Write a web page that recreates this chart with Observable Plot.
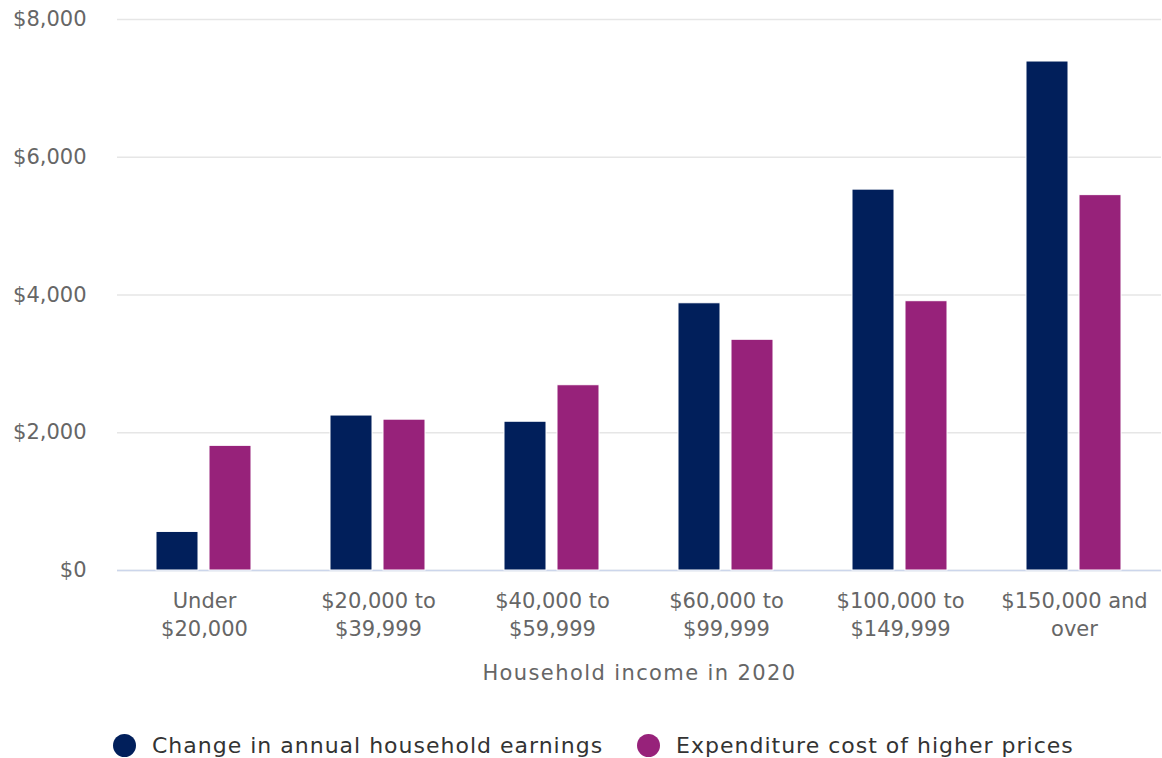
<!DOCTYPE html>
<html>
<head>
<meta charset="utf-8">
<script src="https://cdn.jsdelivr.net/npm/d3@7"></script>
<script src="https://cdn.jsdelivr.net/npm/@observablehq/plot@0.6"></script>
<style>
  body { margin: 0; background: white; font-family: "DejaVu Sans", sans-serif; }
  #chart svg { display: block; }
  #chart g[aria-label="fx-axis label"] text { letter-spacing: 1.4px; }
  #legend { display: flex; align-items: center; height: 30px; margin-top: 30px; padding-left: 113px; box-sizing: border-box; }
  .item { display: flex; align-items: center; margin-right: 34px; font-size: 22px; letter-spacing: 1px; color: #333; }
  .dot { width: 23px; height: 23px; border-radius: 50%; margin-right: 16px; flex: none; }
</style>
</head>
<body>
<div id="chart"></div>
<div id="legend"></div>
<script>
const categories = ["Under\n$20,000", "$20,000 to\n$39,999", "$40,000 to\n$59,999", "$60,000 to\n$99,999", "$100,000 to\n$149,999", "$150,000 and\nover"];
const earnings = [560, 2250, 2160, 3880, 5530, 7390];
const expenditure = [1810, 2190, 2690, 3350, 3910, 5450];
const series = ["Change in annual household earnings", "Expenditure cost of higher prices"];
const colors = ["#011f5b", "#97227a"];
const yTicks = [0, 2000, 4000, 6000, 8000];

const data = [];
categories.forEach((c, i) => {
  data.push({category: c, series: series[0], value: earnings[i]});
  data.push({category: c, series: series[1], value: expenditure[i]});
});

const chart = Plot.plot({
  width: 1162,
  height: 700,
  marginLeft: 116,
  marginRight: 0,
  marginTop: 19,
  marginBottom: 130,
  style: {fontFamily: "DejaVu Sans, sans-serif", fontSize: "21px", background: "white"},
  fx: {domain: categories, paddingInner: 0, paddingOuter: 0, label: null},
  x: {domain: series, paddingInner: 0.204, paddingOuter: 0.716, axis: null},
  y: {domain: [0, 8000]},
  color: {domain: series, range: colors},
  marks: [
    Plot.gridY(yTicks, {stroke: "#e6e6e6", strokeOpacity: 1, strokeWidth: 1.5}),
    Plot.ruleY([0], {stroke: "#ccd6eb", strokeWidth: 1.5}),
    Plot.barY(data, {fx: "category", x: "series", y: "value", fill: "series", stroke: "white", strokeWidth: 1}),
    Plot.axisY({ticks: yTicks, tickSize: 0, tickPadding: 31, tickFormat: d => "$" + d3.format(",")(d), fill: "#666", label: null}),
    Plot.axisFx({anchor: "bottom", tickSize: 0, tickPadding: 18, lineHeight: 1.33, fill: "#666", label: "Household income in 2020", labelAnchor: "center", labelOffset: 109})
  ]
});
document.getElementById("chart").appendChild(chart);

const legend = document.getElementById("legend");
series.forEach((s, i) => {
  const item = document.createElement("div");
  item.className = "item";
  const dot = document.createElement("span");
  dot.className = "dot";
  dot.style.background = colors[i];
  const label = document.createElement("span");
  label.textContent = s;
  item.appendChild(dot);
  item.appendChild(label);
  legend.appendChild(item);
});
</script>
</body>
</html>
